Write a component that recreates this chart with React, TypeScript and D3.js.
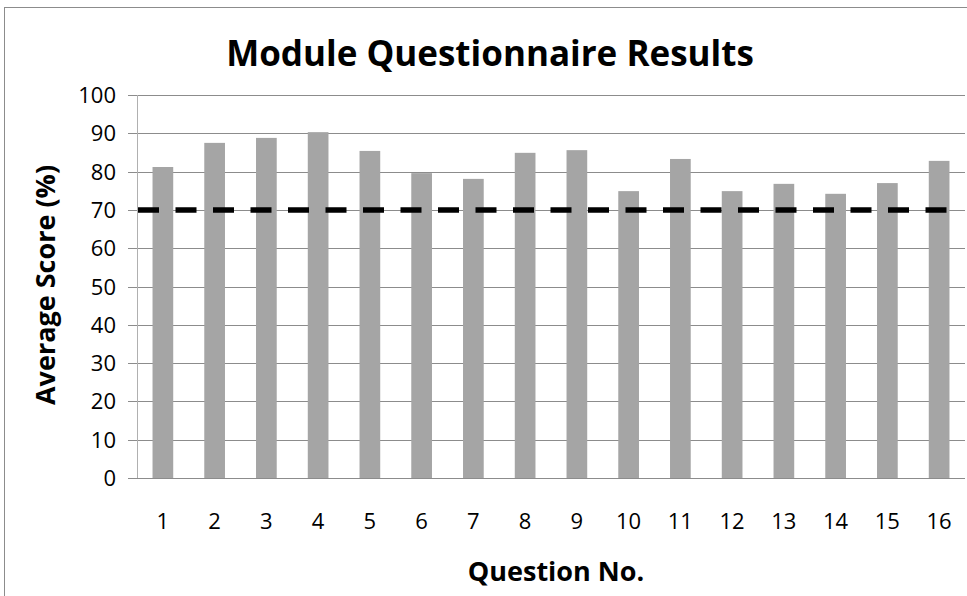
import React from "react";
import * as d3 from "d3";

const questions = ["1","2","3","4","5","6","7","8","9","10","11","12","13","14","15","16"];
const scores = [81.2, 87.5, 88.8, 90.3, 85.4, 79.6, 78.1, 84.9, 85.6, 74.9, 83.3, 74.9, 76.8, 74.2, 77.0, 82.8];
const targetScore = 70;
const yTicks = [0, 10, 20, 30, 40, 50, 60, 70, 80, 90, 100];

const W = 967, H = 596;
const left = 137, right = 965, top = 95, bottom = 478;
const FONT = "'Open Sans', 'DejaVu Sans', sans-serif";

export default function App() {
  const x = d3.scaleBand<string>().domain(questions).range([left, right]).paddingInner(0.6).paddingOuter(0.3);
  const xc = d3.scaleBand<string>().domain(questions).range([left, right]);
  const y = d3.scaleLinear().domain([0, 100]).range([bottom, top]);
  return (
    <svg width={W} height={H} style={{ position: "absolute", left: 0, top: 0, background: "#fff" }}>
      <rect x={4.5} y={7.5} width={980} height={600} fill="#fff" stroke="#8c8c8c" strokeWidth={1} />
      <text x={490} y={66} textAnchor="middle" fontFamily={FONT} fontWeight="bold" fontSize={35} fill="#000">
        Module Questionnaire Results
      </text>
      {yTicks.map((t) => (
        <g key={t}>
          {t > 0 && (
            <line x1={left} x2={right} y1={Math.round(y(t)) + 0.5} y2={Math.round(y(t)) + 0.5} stroke="#8c8c8c" strokeWidth={1} />
          )}
          <line x1={left - 9} x2={left} y1={Math.round(y(t)) + 0.5} y2={Math.round(y(t)) + 0.5} stroke="#8c8c8c" strokeWidth={1} />
          <text x={116} y={y(t) + 8} textAnchor="end" fontFamily={FONT} fontSize={22} fill="#000">
            {t}
          </text>
        </g>
      ))}
      <line x1={left + 0.5} x2={left + 0.5} y1={top} y2={bottom} stroke="#b0b0b0" strokeWidth={1} />
      {questions.map((q, i) => (
        <rect key={q} x={x(q)} y={y(scores[i])} width={x.bandwidth()} height={bottom - y(scores[i])} fill="#a5a5a5" />
      ))}
      <line x1={left} x2={right} y1={Math.round(bottom) + 0.5} y2={Math.round(bottom) + 0.5} stroke="#8c8c8c" strokeWidth={1} />
      <line x1={left + 1} x2={960} y1={y(targetScore)} y2={y(targetScore)} stroke="#000" strokeWidth={5.5} strokeDasharray="21,16.5" />
      {questions.map((q) => (
        <text key={q} x={(xc(q) as number) + xc.bandwidth() / 2} y={529} textAnchor="middle" fontFamily={FONT} fontSize={22} fill="#000">
          {q}
        </text>
      ))}
      <text x={556} y={581} textAnchor="middle" fontFamily={FONT} fontWeight="bold" fontSize={27} fill="#000">
        Question No.
      </text>
      <text transform={`translate(55, 285) rotate(-90)`} textAnchor="middle" fontFamily={FONT} fontWeight="bold" fontSize={27} fill="#000">
        Average Score (%)
      </text>
    </svg>
  );
}
